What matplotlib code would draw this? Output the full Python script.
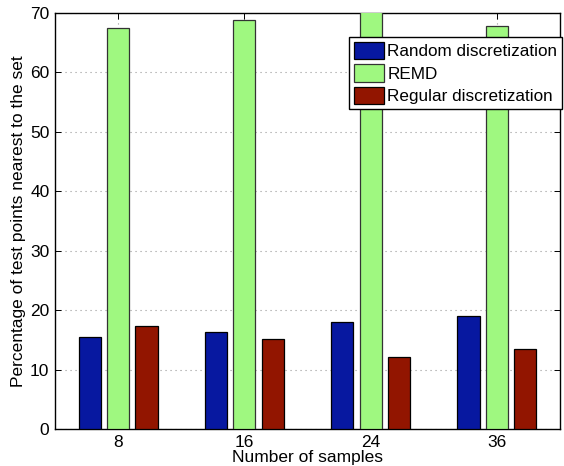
import matplotlib
matplotlib.use("Agg")
import matplotlib.pyplot as plt
import numpy as np

plt.rcParams['font.family'] = ['Liberation Sans', 'DejaVu Sans']

categories = ['8', '16', '24', '36']
random_disc = [15.4, 16.3, 18.0, 19.0]
remd = [67.5, 68.8, 72.0, 67.8]
regular_disc = [17.4, 15.2, 12.2, 13.5]
yticks = [0, 10, 20, 30, 40, 50, 60, 70]

fig = plt.figure(figsize=(5.64, 4.66), dpi=100)
ax = fig.add_axes([0.0975, 0.0794, 0.8955, 0.8926])

x = np.arange(1, len(categories) + 1)
w = 0.175
off = 0.225
ax.bar(x - off, random_disc, w, color='#0718a0', edgecolor='black', linewidth=0.9,
       label='Random discretization', zorder=3)
ax.bar(x, remd, w, color='#9ff880', edgecolor='#333333', linewidth=0.9,
       label='REMD', zorder=3)
ax.bar(x + off, regular_disc, w, color='#921500', edgecolor='black', linewidth=0.9,
       label='Regular discretization', zorder=3)

ax.set_xlim(0.5, 4.5)
ax.set_ylim(0, 70)
ax.set_xticks(x)
ax.set_xticklabels(categories)
ax.set_yticks(yticks)
ax.grid(True, linestyle=(0, (1, 3.5)), color='#999999', linewidth=0.8, zorder=0)
ax.tick_params(direction='in', top=True, right=True, labelsize=12.5, length=4, width=0.7, pad=4)
for s in ax.spines.values():
    s.set_linewidth(1.0)

ax.set_xlabel('Number of samples', fontsize=12.5, labelpad=0)
ax.set_ylabel('Percentage of test points nearest to the set', fontsize=12.5, labelpad=3)

leg = ax.legend(loc='upper right', bbox_to_anchor=(1.004, 0.9416), fontsize=12.3,
                fancybox=False, framealpha=1, edgecolor='black',
                handlelength=1.75, handleheight=1.17, handletextpad=0.23,
                borderpad=0.27, labelspacing=0.3, borderaxespad=0.0)
leg.get_frame().set_linewidth(1.0)

fig.savefig('out.png', dpi=100)
